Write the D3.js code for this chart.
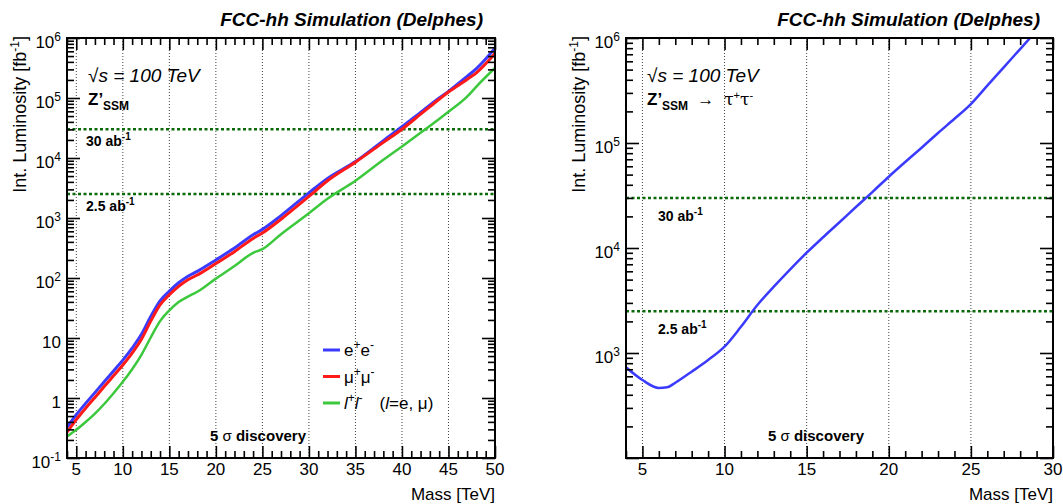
<!DOCTYPE html>
<html><head><meta charset="utf-8">
<script src="https://cdn.jsdelivr.net/npm/d3@7"></script>
<style>
body{margin:0;background:#fff}
svg{display:block}
text{font-family:"Liberation Sans",Arial,Helvetica,sans-serif;fill:#000}
</style>
</head><body>
<script>
// ---------- data ----------
const massLep = [4,5,6,7,8,9,10,11,12,13,14,15,16,17,18,20,22,24,25,27,30,32,35,38,40,42,44,45,47,48,50];
const lumiEE   = [0.324,0.525,0.813,1.23,1.86,2.82,4.27,6.76,11.5,22.9,41.7,60.3,83.2,107,129,200,316,525,646,1096,2630,4570,8710,19500,33100,57500,100000,129000,229000,309000,676000];
const lumiMuMu = [0.269,0.437,0.676,1.02,1.55,2.34,3.55,5.62,9.55,19.1,35.5,52.5,72.4,93.3,112,174,275,457,562,955,2290,4170,8510,18200,30200,53700,95500,126000,204000,263000,550000];
const lumiLL   = [0.229,0.295,0.398,0.550,0.794,1.20,1.86,3.02,5.25,10.2,19.1,28.8,39.8,49.0,58.9,97.7,158,263,302,537,1200,2090,4170,9330,15500,26300,44700,58900,105000,155000,316000];

const massTau = [4,5,6,6.5,7,8,9,10,11,12,13,14,15,16,17,18,19,20,21,22,23,24,25,26,27,28,29];
const lumiTau = [731,553,464,471,521,664,857,1148,1778,2863,4283,6270,9016,12650,17580,24560,34100,47750,65900,90200,124400,170100,235000,351400,526000,785000,1175000];

const lumiRefValues = [30000, 2500];
const lumiRefLabels = ["30", "2.5"];

const xTicksLeft  = [5,10,15,20,25,30,35,40,45,50];
const xTicksRight = [5,10,15,20,25,30];
const yTicksLeft  = [0.1,1,10,100,1e3,1e4,1e5,1e6];
const yTicksRight = [1e3,1e4,1e5,1e6];

const legendLabels = ["ee","mumu","ll"];

// ---------- setup ----------
const W = 1063, H = 504;
const svg = d3.select("body").append("svg").attr("width", W).attr("height", H);
const defs = svg.append("defs");

const C_BLUE = "#3b3bff", C_RED = "#ff1a1a", C_GREEN = "#3cc83c", C_DKGREEN = "#0a6a0a";

function rich(parent, x, y, parts, attrs) {
  const t = parent.append("text").attr("x", x).attr("y", y);
  if (attrs) Object.entries(attrs).forEach(([k, v]) => t.attr(k, v));
  let cur = 0;
  parts.forEach(p => {
    const shift = p.sup ? -p.sup : (p.sub ? p.sub : 0);
    const ts = t.append("tspan").text(p.t);
    if (shift - cur !== 0) ts.attr("dy", shift - cur);
    cur = shift;
    if (p.size) ts.attr("font-size", p.size);
    if (p.weight) ts.attr("font-weight", p.weight);
    if (p.style) ts.attr("font-style", p.style);
    if (p.family) ts.attr("font-family", p.family);
    if (p.dx) ts.attr("dx", p.dx);
  });
  return t;
}

function panel(cfg) {
  const x = d3.scaleLinear().domain(cfg.xDomain).range([cfg.left, cfg.right]);
  const y = d3.scaleLog().domain(cfg.yDomain).range([cfg.bottom, cfg.top]);
  const g = svg.append("g");

  defs.append("clipPath").attr("id", "clip" + cfg.id)
    .append("rect").attr("x", cfg.left).attr("y", cfg.top)
    .attr("width", cfg.right - cfg.left).attr("height", cfg.bottom - cfg.top);

  // vertical dotted grid
  g.selectAll("line.grid")
    .data(cfg.xTicks.filter(v => v > cfg.xDomain[0] && v < cfg.xDomain[1]))
    .join("line").attr("class", "grid")
    .attr("x1", d => x(d)).attr("x2", d => x(d))
    .attr("y1", cfg.top).attr("y2", cfg.bottom)
    .attr("stroke", "#444").attr("stroke-width", 1).attr("stroke-dasharray", "1,2");

  // luminosity reference lines
  g.selectAll("line.lumi").data(lumiRefValues).join("line").attr("class", "lumi")
    .attr("x1", cfg.left).attr("x2", cfg.right)
    .attr("y1", d => y(d)).attr("y2", d => y(d))
    .attr("stroke", C_DKGREEN).attr("stroke-width", 2.5).attr("stroke-dasharray", "3,2.5");

  lumiRefValues.forEach((v, i) => {
    rich(g, cfg.left + cfg.lumiLabelDx, y(v) + cfg.lumiLabelDy, [
      {t: lumiRefLabels[i] + " ab", weight: "bold", size: 14},
      {t: "-1", weight: "bold", size: 10, sup: 6}
    ]);
  });

  // curves
  const line = d3.line().x(d => x(d[0])).y(d => y(d[1])).curve(d3.curveMonotoneX);
  const cg = g.append("g").attr("clip-path", "url(#clip" + cfg.id + ")");
  cfg.series.forEach(s => {
    cg.append("path").datum(d3.zip(s.mass, s.lumi))
      .attr("d", line).attr("fill", "none")
      .attr("stroke", s.color).attr("stroke-width", s.width)
      .attr("stroke-linejoin", "round");
  });

  // ticks via d3 axes
  const xMinor = d3.range(Math.ceil(cfg.xDomain[0]), cfg.xDomain[1] + 0.001, 1).filter(v => !cfg.xTicks.includes(v));
  const yMinor = [];
  const lo = Math.floor(Math.log10(cfg.yDomain[0])), hi = Math.ceil(Math.log10(cfg.yDomain[1]));
  for (let e = lo; e < hi; e++) for (let k = 2; k <= 9; k++) {
    const v = k * Math.pow(10, e);
    if (v > cfg.yDomain[0] && v < cfg.yDomain[1]) yMinor.push(v);
  }
  const yMajorAll = [];
  for (let e = lo; e <= hi; e++) { const v = Math.pow(10, e); if (v >= cfg.yDomain[0] && v <= cfg.yDomain[1]) yMajorAll.push(v); }

  const axes = [
    [d3.axisBottom(x).tickValues(cfg.xTicks).tickSize(-12), `translate(0,${cfg.bottom})`],
    [d3.axisBottom(x).tickValues(xMinor).tickSize(-7), `translate(0,${cfg.bottom})`],
    [d3.axisTop(x).tickValues(cfg.xTicks).tickSize(-12), `translate(0,${cfg.top})`],
    [d3.axisTop(x).tickValues(xMinor).tickSize(-7), `translate(0,${cfg.top})`],
    [d3.axisLeft(y).tickValues(yMajorAll).tickSize(-13), `translate(${cfg.left},0)`],
    [d3.axisLeft(y).tickValues(yMinor).tickSize(-7), `translate(${cfg.left},0)`],
    [d3.axisRight(y).tickValues(yMajorAll).tickSize(-13), `translate(${cfg.right},0)`],
    [d3.axisRight(y).tickValues(yMinor).tickSize(-7), `translate(${cfg.right},0)`]
  ];
  axes.forEach(([ax, tr]) => {
    const a = g.append("g").attr("transform", tr).call(ax.tickFormat("").tickSizeOuter(0));
    a.select(".domain").remove();
    a.selectAll("line").attr("stroke", "#000").attr("stroke-width", 1.6);
    a.selectAll("text").remove();
  });

  // frame
  g.append("rect").attr("x", cfg.left).attr("y", cfg.top)
    .attr("width", cfg.right - cfg.left).attr("height", cfg.bottom - cfg.top)
    .attr("fill", "none").attr("stroke", "#000").attr("stroke-width", 2);

  // x tick labels
  g.selectAll("text.xl").data(cfg.xTicks).join("text").attr("class", "xl")
    .attr("x", d => x(d)).attr("y", cfg.bottom + 17)
    .attr("text-anchor", "middle").attr("font-size", 17).text(d => d);

  // y tick labels
  cfg.yTicks.forEach(v => {
    const e = Math.round(Math.log10(v));
    let parts;
    if (e === 0) parts = [{t: "1"}];
    else if (e === 1) parts = [{t: "10"}];
    else parts = [{t: "10"}, {t: String(e), size: 12, sup: 7}];
    rich(g, cfg.left - 6, y(v) + 9.5, parts, {"text-anchor": "end", "font-size": 17});
  });

  // axis titles
  rich(g, cfg.right, cfg.bottom + 42, [{t: "Mass [TeV]"}], {"text-anchor": "end", "font-size": 17});
  rich(g, 0, 0, [{t: "Int. Luminosity [fb"}, {t: "-1", size: 12, sup: 7}, {t: "]"}],
    {"text-anchor": "end", "font-size": 18, transform: `translate(${cfg.left - 41},${cfg.top - 2}) rotate(-90)`});

  // header
  rich(g, cfg.titleRight, 26, [{t: "FCC-hh Simulation (Delphes)"}],
    {"text-anchor": "end", "font-size": 19, "font-weight": "bold", "font-style": "italic"});

  rich(g, cfg.left + 21, 82, [{t: "√s = 100 TeV"}], {"font-size": 19, "font-style": "italic"});
  rich(g, cfg.left + 21, 105, cfg.procParts, {"font-size": 17});

  rich(g, cfg.discX, 441, [
    {t: "5 ", weight: "bold"}, {t: "σ"}, {t: " discovery", weight: "bold"}
  ], {"font-size": 15});

  return {x, y, g};
}

const zParts = [{t: "Z’", weight: "bold", size: 17}, {t: "SSM", weight: "bold", size: 12, sub: 5}];

const L = panel({
  id: "L", left: 67, right: 495, top: 38, bottom: 458,
  xDomain: [4, 50], yDomain: [0.1, 1e6],
  xTicks: xTicksLeft, yTicks: yTicksLeft,
  lumiLabelDx: 19, lumiLabelDy: 17,
  titleRight: 483, discX: 210,
  procParts: zParts,
  series: [
    {mass: massLep, lumi: lumiEE, color: C_BLUE, width: 3},
    {mass: massLep, lumi: lumiMuMu, color: C_RED, width: 3},
    {mass: massLep, lumi: lumiLL, color: C_GREEN, width: 2.5}
  ]
});

const R = panel({
  id: "R", left: 626, right: 1053, top: 38, bottom: 458,
  xDomain: [4, 30], yDomain: [100, 1e6],
  xTicks: xTicksRight, yTicks: yTicksRight,
  lumiLabelDx: 32, lumiLabelDy: 23,
  titleRight: 1040, discX: 768,
  procParts: zParts.concat([
    {t: "→", size: 17, dx: 9}, {t: "τ", size: 17, dx: 10, family: "DejaVu Serif"}, {t: "+", size: 11, sup: 6},
    {t: "τ", size: 17, family: "DejaVu Serif"}, {t: "-", size: 11, sup: 6}
  ]),
  series: [
    {mass: massTau, lumi: lumiTau, color: C_BLUE, width: 2.5}
  ]
});

// legend (left panel)
const legendColors = [C_BLUE, C_RED, C_GREEN];
const legendText = [
  [{t: "e"}, {t: "+", size: 12, sup: 7}, {t: "e"}, {t: "-", size: 12, sup: 7}],
  [{t: "μ"}, {t: "+", size: 12, sup: 7}, {t: "μ"}, {t: "-", size: 12, sup: 7}],
  [{t: "l", style: "italic"}, {t: "+", size: 12, sup: 7}, {t: "l", style: "italic"}, {t: "-", size: 12, sup: 7},
   {t: "(", dx: 17}, {t: "l", style: "italic"}, {t: "=e, μ)"}]
];
const legY = d3.scalePoint().domain(legendLabels).range([350, 403]);
const leg = svg.append("g");
leg.selectAll("line").data(legendLabels).join("line")
  .attr("x1", 323).attr("x2", 340)
  .attr("y1", d => legY(d)).attr("y2", d => legY(d))
  .attr("stroke", (d, i) => legendColors[i]).attr("stroke-width", 3);
legendLabels.forEach((d, i) => rich(leg, 344, legY(d) + 6, legendText[i], {"font-size": 17}));
</script>
</body></html>
